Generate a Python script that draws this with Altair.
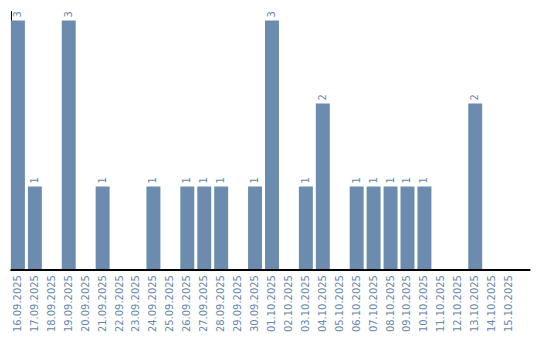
import altair as alt
import pandas as pd

dates = ["16.09.2025", "17.09.2025", "18.09.2025", "19.09.2025", "20.09.2025",
         "21.09.2025", "22.09.2025", "23.09.2025", "24.09.2025", "25.09.2025",
         "26.09.2025", "27.09.2025", "28.09.2025", "29.09.2025", "30.09.2025",
         "01.10.2025", "02.10.2025", "03.10.2025", "04.10.2025", "05.10.2025",
         "06.10.2025", "07.10.2025", "08.10.2025", "09.10.2025", "10.10.2025",
         "11.10.2025", "12.10.2025", "13.10.2025", "14.10.2025", "15.10.2025"]
counts = [3, 1, 0, 3, 0, 1, 0, 0, 1, 0, 1, 1, 1, 0, 1, 3, 0, 1, 2, 0,
          1, 1, 1, 1, 1, 0, 0, 2, 0, 0]

df = pd.DataFrame({"date": dates, "count": counts})

bar_color = "#6b8cae"
text_color = "#6587ab"
font = "DejaVu Sans"

x = alt.X("date:N", sort=dates, title=None,
          scale=alt.Scale(range=[0, 507], paddingInner=0.176, paddingOuter=0),
          axis=alt.Axis(labelAngle=270, labelColor=text_color, labelFont=font,
                        labelFontSize=10, ticks=False, domain=False, grid=False,
                        labelPadding=5, labelAlign="right", labelBaseline="middle"))
y = alt.Y("count:Q", title=None,
          scale=alt.Scale(domain=[0, 3.12], nice=False),
          axis=alt.Axis(labels=False, ticks=False, grid=False, domainColor="black",
                        domainWidth=1))

bars = alt.Chart(df).mark_bar(color=bar_color).encode(x=x, y=y)

labels = alt.Chart(df).transform_filter("datum.count > 0").mark_text(
    angle=270, align="left", baseline="middle", dx=3, color=text_color,
    font=font, fontSize=10
).encode(x=x, y=y, text="count:Q")

xline = alt.Chart(df).mark_rule(color="black", strokeWidth=1).encode(
    x=alt.value(0), x2=alt.value(521), y=alt.value(260.5))

chart = alt.layer(bars, labels, xline).properties(
    width=521, height=260, background="white",
    padding={"left": 10, "top": 10, "right": 9, "bottom": 0}
).configure_view(stroke="transparent", strokeWidth=0)

chart.save("out.html", embed_options={"renderer": "svg", "actions": False})
